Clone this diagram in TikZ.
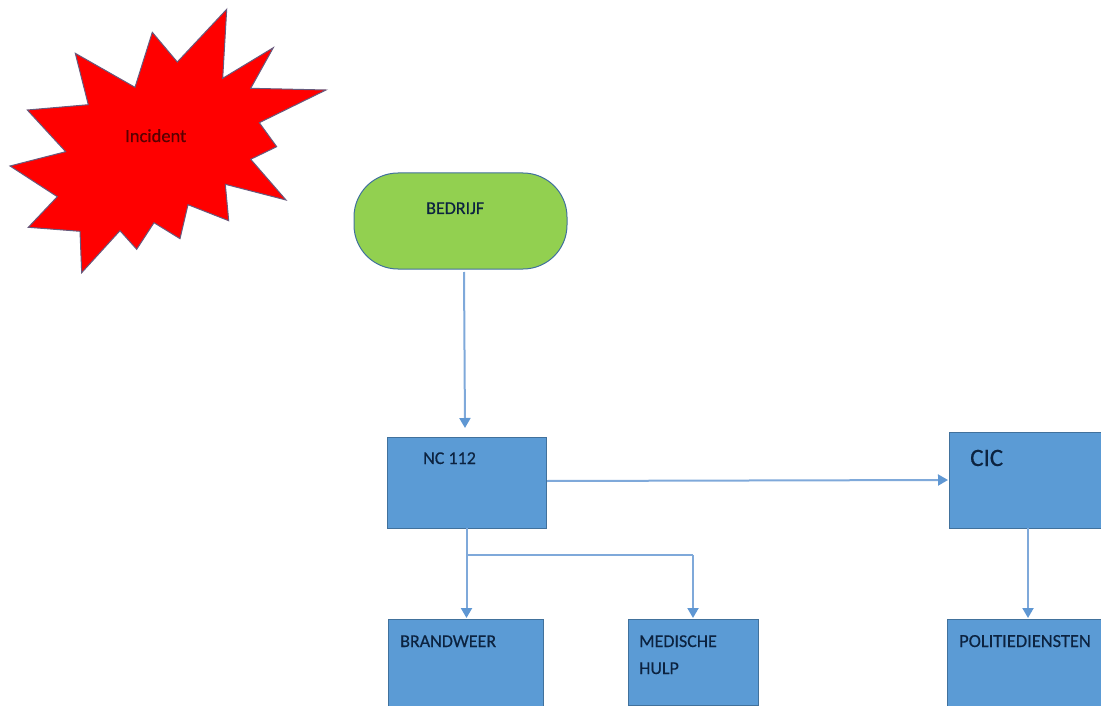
\documentclass[tikz,border=0pt]{standalone}
\usepackage{fontspec}
\setmainfont{Carlito}[RawFeature={embolden=0.4}]
\usetikzlibrary{arrows.meta}
\definecolor{boxfill}{HTML}{5B9BD5}
\definecolor{boxline}{HTML}{41719C}
\definecolor{linkline}{HTML}{7FA9DA}
\definecolor{tipfill}{HTML}{5F97D3}
\definecolor{navy}{HTML}{0C2340}
\definecolor{greenfill}{HTML}{92D050}
\tikzset{
  x=1pt,y=-1pt,
  bluebox/.style={draw=boxline,line width=1pt,fill=boxfill,rectangle,inner sep=0pt,outer sep=0pt},
  boxtext/.style={anchor=base west,inner sep=0pt,text=navy,font=\fontsize{18}{18}\selectfont},
  link/.style={draw=linkline,line width=2pt},
  arrowlink/.style={link,-{Triangle[length=10pt,width=11pt,fill=tipfill,color=tipfill]},shorten >=1pt},
}
\begin{document}
\begin{tikzpicture}
\useasboundingbox (0,0) rectangle (1101,706);
\clip (0,0) rectangle (1101,706);
% incident star
\draw[draw=boxline!80!red,line width=1pt,fill=red,line join=miter] (226.7,9.3)--(222.7,78.3)--(273.3,47.7)--(250.7,88.3)--(326,90)--(259.3,122.7)--(276.7,146.7)--(250.7,159.3)--(286,200)--(225.3,184.3)--(228.7,220.7)--(188,204.7)--(180,238.7)--(154,222.7)--(136.7,249.3)--(120,230.7)--(81.7,272.7)--(80,231.3)--(28.3,227.3)--(57.3,196.7)--(10,166)--(65.7,151.7)--(27.3,110)--(88.3,104.7)--(75.3,53.3)--(135,87.3)--(152.3,32.3)--(177.3,62)--cycle;
\node[anchor=base west,inner sep=0pt,text=red!35!black,font=\fontsize{18.5}{18.5}\selectfont] (incident) at (125,142) {Incident};
% boxes
\node[draw=boxline,line width=1pt,fill=greenfill,rounded corners=44pt,minimum width=213pt,minimum height=96pt,inner sep=0pt,outer sep=0pt] (bedrijf) at (460.5,221) {};
\node[bluebox,minimum width=159pt,minimum height=91pt] (nc) at (466.5,482.5) {};
\node[bluebox,minimum width=165pt,minimum height=96pt] (cic) at (1031.5,480) {};
\node[bluebox,minimum width=155pt,minimum height=100pt] (brand) at (465.5,669) {};
\node[bluebox,minimum width=130pt,minimum height=86pt] (med) at (693,662) {};
\node[bluebox,minimum width=165pt,minimum height=100pt] (pol) at (1029.5,669) {};
% labels
\node[boxtext] (tbed) at (426,214) {BEDRIJF};
\node[boxtext] (tnc) at (423,464) {NC 112};
\node[boxtext,font=\fontsize{25}{25}\selectfont] (tcic) at (970,466) {CIC};
\node[boxtext] (tbrand) at (400,647) {BRANDWEER};
\node[boxtext] (tmed1) at (639,647) {MEDISCHE};
\node[boxtext] (tmed2) at (639,674) {HULP};
\node[boxtext,font=\fontsize{18.4}{18.4}\selectfont] (tpol) at (959,647) {POLITIEDIENSTEN};
% connectors
\coordinate (bedout) at (464,272);
\coordinate (ncin) at (465,429);
\coordinate (ncout) at (547,481);
\coordinate (cicin) at (949,480);
\coordinate (branch) at (466.5,555);
\coordinate (corner) at (693,555);
\coordinate (cicout) at (1028,528);
\coordinate (polin) at (1028,619);
\draw[arrowlink] (bedout) -- (ncin);
\draw[arrowlink] (ncout) -- (cicin);
\draw[arrowlink] (nc.south) -- (nc.south |- brand.north);
\draw[link] (branch) -- (corner);
\draw[arrowlink] (corner) -- (med.north);
\draw[arrowlink] (cicout) -- (polin);
\end{tikzpicture}
\end{document}
